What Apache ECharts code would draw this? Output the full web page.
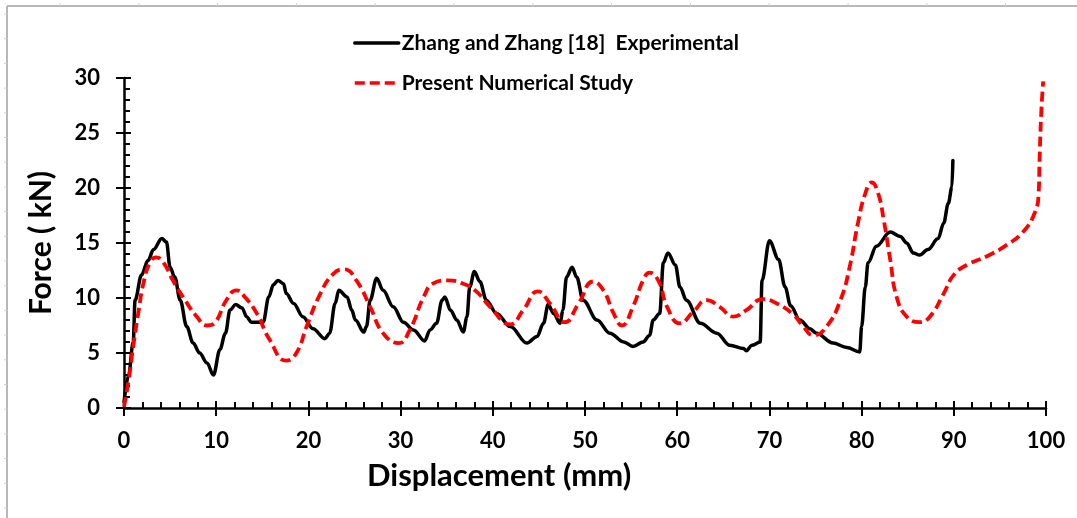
<!DOCTYPE html>
<html>
<head>
<meta charset="utf-8">
<script src="https://cdn.jsdelivr.net/npm/echarts@6/dist/echarts.min.js"></script>
<style>
  html, body { margin: 0; padding: 0; background: #fff; }
  #chart { width: 1077px; height: 518px; }
</style>
</head>
<body>
<div id="chart"></div>
<script>
// Force–displacement response: experiment vs. numerical model
const seriesNames = ['Zhang and Zhang [18]  Experimental', 'Present Numerical Study'];

// Experimental curve (displacement in mm, force in kN)
const expDisp = [0, 0.5, 1.0, 1.2, 1.9, 2.6, 3.2, 4.1, 4.6, 5.0, 5.5, 6.1, 6.8, 7.5, 8.2, 9.0, 9.7,
  10.4, 11.0, 11.5, 12.1, 12.8, 13.3, 13.8, 15.1, 15.7, 16.2, 16.7, 17.3, 17.6, 18.4, 19.4,
  20.5, 21.8, 22.3, 22.9, 23.3, 24.2, 24.7, 25.1, 26.0, 26.3, 26.7, 27.4, 28.1, 29.2,
  30.3, 31.4, 32.6, 33.2, 33.9, 34.5, 34.8, 35.4, 36.1, 36.8, 37.2, 37.5, 38.0, 38.6, 39.3,
  40.4, 41.9, 43.7, 44.8, 45.5, 46.0, 46.6, 47.3, 47.6, 48.0, 48.6, 49.1, 49.8,
  51.3, 52.7, 54.2, 55.2, 56.3, 57.0, 57.4, 58.1, 58.5, 59.0, 59.8,
  60.3, 61.0, 62.5, 64.3, 65.7, 67.2, 67.5, 68.1, 69.0, 69.2, 70.0,
  71.0, 71.7, 72.3, 73.3, 74.4, 75.1, 76.9, 78.4, 79.8, 80.0, 80.4, 80.7, 81.6,
  83.1, 84.2, 84.9, 85.6, 86.3, 87.2, 88.3, 88.9, 89.4, 89.8, 89.9];
const expForce = [0.5, 3.0, 6.0, 9.8, 12.1, 13.4, 14.4, 15.4, 15.1, 12.8, 11.9, 9.8, 7.4, 5.9, 5.0, 4.1, 3.0,
  5.3, 6.8, 8.9, 9.4, 9.1, 8.3, 7.8, 7.8, 10.1, 11.2, 11.6, 11.3, 10.4, 9.5, 8.3,
  7.2, 6.3, 6.8, 9.5, 10.7, 10.1, 8.9, 8.0, 6.9, 7.4, 9.8, 11.8, 10.7, 9.2,
  7.8, 7.1, 6.1, 7.1, 7.7, 9.8, 10.1, 8.9, 8.0, 6.9, 8.3, 11.0, 12.4, 11.5, 9.8,
  8.6, 7.4, 5.9, 6.5, 7.7, 9.4, 8.6, 7.7, 8.9, 11.9, 12.8, 11.9, 9.8,
  8.0, 6.8, 6.0, 5.6, 6.0, 6.6, 8.0, 8.6, 13.2, 14.1, 13.0,
  11.0, 9.8, 7.7, 6.8, 5.7, 5.4, 5.2, 5.7, 6.0, 11.6, 15.2,
  13.5, 11.0, 9.3, 8.0, 7.2, 6.8, 5.9, 5.5, 5.1, 7.4, 11.0, 13.2, 14.7,
  16.0, 15.6, 15.0, 14.1, 13.9, 14.4, 15.4, 16.8, 18.6, 20.1, 22.5];

// Numerical curve (displacement in mm, force in kN)
const numDisp = [0, 0.5, 1.0, 1.6, 2.1, 2.8, 3.5, 4.3, 5.3, 6.4, 7.9, 9.0, 9.9,
  11.1, 12.2, 13.1, 14.4, 15.8, 17.6, 18.7, 19.8, 21.3, 22.7, 23.9, 25.2, 26.7, 28.1, 29.8,
  31.0, 32.5, 33.5, 35.0, 36.8, 38.2, 39.7, 41.9, 43.3, 44.9, 46.2, 47.8, 49.3,
  50.9, 52.0, 53.1, 54.0, 55.2, 56.3, 57.0, 58.0, 58.9, 60.3, 61.8, 63.2, 64.6, 66.1, 67.5, 69.3,
  70.8, 72.6, 73.5, 74.8, 76.2, 77.7, 78.7, 79.6, 80.4, 81.1, 81.8, 82.4, 83.1, 83.8, 84.9,
  86.3, 87.4, 88.9, 90.0, 91.4, 93.6, 95.7, 97.5, 98.8, 99.2, 99.3, 99.5, 99.7];
const numForce = [0.1, 2.5, 5.6, 8.9, 11.3, 13.2, 13.7, 13.2, 11.6, 10.1, 8.3, 7.5, 7.8,
  9.8, 10.7, 10.1, 8.6, 6.2, 4.3, 5.0, 7.4, 10.4, 12.2, 12.6, 11.6, 9.2, 6.8, 5.9,
  7.1, 10.1, 11.3, 11.6, 11.3, 10.6, 9.2, 7.6, 8.9, 10.6, 9.5, 7.8, 9.5,
  11.5, 10.7, 8.6, 7.5, 9.2, 11.6, 12.3, 11.5, 9.2, 7.7, 8.8, 9.8, 9.2, 8.3, 8.9, 9.9,
  9.5, 8.5, 7.6, 6.6, 7.4, 9.8, 12.8, 16.8, 19.5, 20.5, 19.5, 17.1, 13.5, 10.1, 8.3,
  7.8, 8.3, 10.4, 12.1, 13.0, 13.8, 14.8, 16.0, 17.8, 19.5, 22.5, 27.1, 29.7];

// Axis settings
const xMin = 0, xMax = 100, xStep = 10;
const yMin = 0, yMax = 30, yStep = 5;
const xTitle = 'Displacement (mm)';
const yTitle = 'Force ( kN)';

const zip = (xs, ys) => xs.map((x, i) => [x, ys[i]]);

const FONT = 'Lato, "Open Sans", "DejaVu Sans", sans-serif';
const AXIS_LINE = { show: true, lineStyle: { color: '#000', width: 2.5 } };

const chart = echarts.init(document.getElementById('chart'), null, { renderer: 'canvas' });

// Light sheet frame lines and cell stubs along the top and left edge
const frame = [
  { type: 'line', shape: { x1: 7, y1: 6, x2: 1077, y2: 6 }, style: { stroke: '#b8b8b8', lineWidth: 2 }, silent: true },
  { type: 'line', shape: { x1: 7, y1: 6, x2: 7, y2: 518 }, style: { stroke: '#b8b8b8', lineWidth: 2 }, silent: true }
];
for (let x = 60; x < 1077; x += 78.8) {
  frame.push({ type: 'line', shape: { x1: x, y1: 3, x2: x, y2: 6 }, style: { stroke: '#d0d0d0', lineWidth: 1 }, silent: true });
}
for (let y = 14; y < 518; y += 24.7) {
  frame.push({ type: 'line', shape: { x1: 4, y1: y, x2: 7, y2: y }, style: { stroke: '#d0d0d0', lineWidth: 1 }, silent: true });
}

const option = {
  backgroundColor: '#fff',
  animation: false,
  textStyle: { fontFamily: FONT },
  grid: { left: 124, right: 31, top: 78, bottom: 110, containLabel: false },
  legend: {
    orient: 'vertical',
    left: 353,
    top: 32,
    padding: 0,
    itemWidth: 44,
    itemHeight: 22,
    itemGap: 18,
    itemStyle: { opacity: 0, borderWidth: 0 },
    lineStyle: { width: 3.5 },
    textStyle: { fontFamily: FONT, fontWeight: 'bold', fontSize: 21, color: '#000', lineHeight: 22, padding: [0, 0, 0, -2] },
    data: seriesNames
  },
  xAxis: [
    {
      type: 'value', min: xMin, max: xMax, interval: xStep,
      axisLine: AXIS_LINE,
      axisTick: { show: true, inside: true, length: 7, lineStyle: { color: '#000', width: 2 } },
      minorTick: { show: true, splitNumber: 5, length: 6, lineStyle: { color: '#000', width: 2 } },
      splitLine: { show: false },
      axisLabel: { margin: 22, fontFamily: FONT, fontWeight: 'bold', fontSize: 22, color: '#000' }
    },
    {
      type: 'value', min: xMin, max: xMax, interval: xStep, position: 'bottom',
      axisLine: { show: false },
      axisTick: { show: true, inside: false, length: 8, lineStyle: { color: '#000', width: 2 } },
      splitLine: { show: false },
      axisLabel: { show: false }
    }
  ],
  yAxis: [
    {
      type: 'value', min: yMin, max: yMax, interval: yStep,
      name: yTitle, nameLocation: 'middle', nameGap: 68,
      nameTextStyle: { fontFamily: FONT, fontWeight: 'bold', fontSize: 30, color: '#000' },
      axisLine: AXIS_LINE,
      axisTick: { show: true, inside: true, length: 7, lineStyle: { color: '#000', width: 2 } },
      minorTick: { show: true, splitNumber: 5, length: 6, lineStyle: { color: '#000', width: 2 } },
      splitLine: { show: false },
      axisLabel: { margin: 24, fontFamily: FONT, fontWeight: 'bold', fontSize: 22, color: '#000' }
    },
    {
      type: 'value', min: yMin, max: yMax, interval: yStep, position: 'left',
      axisLine: { show: false },
      axisTick: { show: true, inside: false, length: 8, lineStyle: { color: '#000', width: 2 } },
      splitLine: { show: false },
      axisLabel: { show: false }
    }
  ],
  graphic: frame.concat([
    {
      // axis title, centered under the left part of the axis
      type: 'text', left: 367, top: 460, silent: true,
      style: { text: xTitle, fontFamily: FONT, fontWeight: 'bold', fontSize: 31, fill: '#000' }
    }
  ]),
  series: [
    {
      name: seriesNames[0], type: 'line', xAxisIndex: 0, yAxisIndex: 0,
      data: zip(expDisp, expForce),
      symbol: 'none', smooth: 0.35, smoothMonotone: 'x',
      lineStyle: { color: '#000', width: 3.5, cap: 'round', join: 'round' },
      itemStyle: { color: '#000' }, z: 3
    },
    {
      name: seriesNames[1], type: 'line', xAxisIndex: 0, yAxisIndex: 0,
      data: zip(numDisp, numForce),
      symbol: 'none', smooth: 0.5,
      lineStyle: { color: '#ff0000', width: 3.8, type: [10, 5] },
      itemStyle: { color: '#ff0000' }, z: 4
    }
  ]
};

chart.setOption(option);
</script>
</body>
</html>
